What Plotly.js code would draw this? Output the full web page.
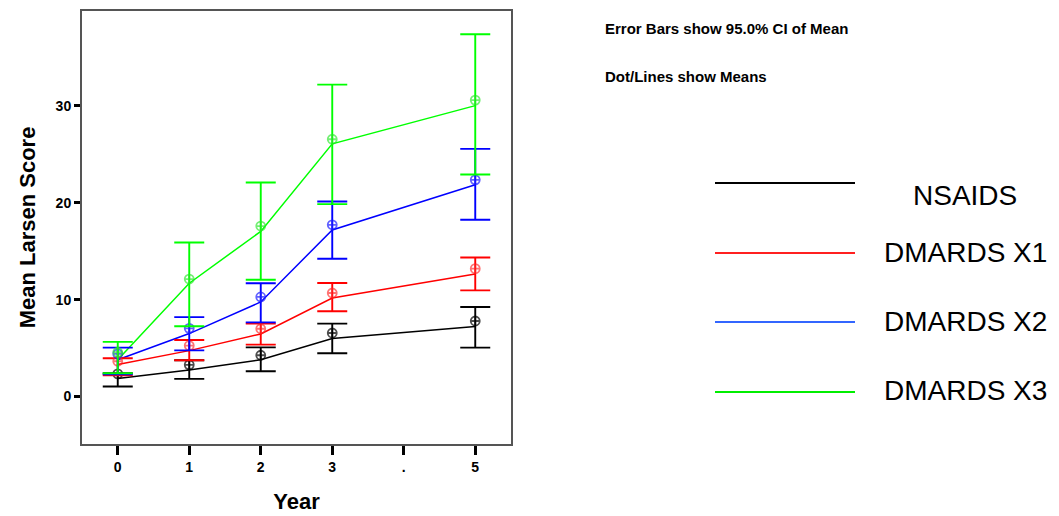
<!DOCTYPE html>
<html>
<head>
<meta charset="utf-8">
<script src="https://cdn.plot.ly/plotly-3.0.1.min.js"></script>
<style>html,body{margin:0;padding:0;background:#fff;}#chart{width:1059px;height:516px;}</style>
</head>
<body>
<div id="chart"></div>
<script>
// Categories (x axis)
const years = ['0', '1', '2', '3', '.', '5'];
const groups = ['NSAIDS', 'DMARDS X1', 'DMARDS X2', 'DMARDS X3'];
const colors = ['#000000', '#ff0000', '#0000ff', '#00ff00'];
const markerColors = ['rgba(0,0,0,0.7)', 'rgba(255,40,40,0.65)', 'rgba(30,30,255,0.7)', 'rgba(40,230,40,0.65)'];
const legendColors = ['#000000', '#ff2020', '#3366ff', '#00ee00'];

// Dot values (means)
const nsaidsMean = [2.34, 3.27, 4.26, 6.56, null, 7.8];
const dm1Mean    = [3.64, 5.26, 7.0, 10.69, null, 13.2];
const dm2Mean    = [4.4, 7.04, 10.28, 17.73, null, 22.37];
const dm3Mean    = [4.57, 12.13, 17.6, 26.56, null, 30.6];

// Line values
const nsaidsLine = [1.86, 2.75, 3.8, 5.98, null, 7.22];
const dm1Line    = [3.3, 4.74, 6.46, 10.17, null, 12.65];
const dm2Line    = [3.8, 6.5, 9.76, 17.2, null, 21.86];
const dm3Line    = [3.8, 11.7, 17.05, 26.08, null, 30.03];

// 95% CI upper / lower
const nsaidsUpper = [2.4, 3.74, 5.08, 7.53, null, 9.25];
const nsaidsLower = [1.03, 1.82, 2.61, 4.47, null, 5.05];
const dm1Upper    = [3.95, 5.84, 7.53, 11.72, null, 14.36];
const dm1Lower    = [2.2, 3.74, 5.36, 8.8, null, 10.96];
const dm2Upper    = [5.05, 8.2, 11.7, 20.13, null, 25.57];
const dm2Lower    = [2.3, 4.77, 7.66, 14.23, null, 18.25];
const dm3Upper    = [5.64, 15.9, 22.1, 32.2, null, 37.4];
const dm3Lower    = [2.4, 7.25, 12.06, 19.86, null, 22.92];

const yTicks = [0, 10, 20, 30];

const means = [nsaidsMean, dm1Mean, dm2Mean, dm3Mean];
const lines = [nsaidsLine, dm1Line, dm2Line, dm3Line];
const uppers = [nsaidsUpper, dm1Upper, dm2Upper, dm3Upper];
const lowers = [nsaidsLower, dm1Lower, dm2Lower, dm3Lower];

const traces = [];
for (let g = 0; g < groups.length; g++) {
  traces.push({
    type: 'scatter', mode: 'lines', x: years, y: lines[g], connectgaps: true,
    line: {color: colors[g], width: 1.5}, showlegend: false, hoverinfo: 'skip', name: groups[g]
  });
}
for (let g = 0; g < groups.length; g++) {
  const m = means[g];
  traces.push({
    type: 'scatter', mode: 'markers', x: years, y: m, name: groups[g], showlegend: false,
    marker: {symbol: 'circle-cross-open', size: 9, color: markerColors[g], line: {width: 1.8, color: markerColors[g]}},
    error_y: {
      type: 'data', symmetric: false,
      array: m.map((v, i) => v == null ? null : uppers[g][i] - v),
      arrayminus: m.map((v, i) => v == null ? null : v - lowers[g][i]),
      color: colors[g], thickness: 1.9, width: 15
    }
  });
}

// plot area pixel geometry
const L = 82, R = 511, T = 11, B = 444, W = 1059, H = 516;
const px = x => (x - L) / (R - L);
const pyPaper = y => (B - y) / (B - T);

const legendY = [183, 253, 322, 392];
const labelY = [195, 252, 321, 390];
const shapes = [];
const annotations = [];
for (let g = 0; g < groups.length; g++) {
  shapes.push({type: 'line', xref: 'paper', yref: 'paper', x0: px(715), x1: px(855),
    y0: pyPaper(legendY[g]), y1: pyPaper(legendY[g]), line: {color: legendColors[g], width: 1.8}});
  annotations.push({xref: 'paper', yref: 'paper', x: px(965), y: pyPaper(labelY[g]), xanchor: 'center', yanchor: 'middle',
    text: groups[g], showarrow: false, font: {family: 'Arial, Liberation Sans', size: 28, color: '#000'}});
}
annotations.push({xref: 'paper', yref: 'paper', x: px(603), y: pyPaper(28), xanchor: 'left', yanchor: 'middle',
  text: '<b>Error Bars show 95.0% CI of Mean</b>', showarrow: false, font: {family: 'Arial, Liberation Sans', size: 15, color: '#000'}});
annotations.push({xref: 'paper', yref: 'paper', x: px(603), y: pyPaper(77), xanchor: 'left', yanchor: 'middle',
  text: '<b>Dot/Lines show Means</b>', showarrow: false, font: {family: 'Arial, Liberation Sans', size: 15, color: '#000'}});

const layout = {
  width: W, height: H,
  margin: {l: L, r: W - R, t: T, b: H - B, pad: 0},
  paper_bgcolor: '#fff', plot_bgcolor: '#fff',
  showlegend: false,
  font: {family: 'Arial, Liberation Sans', color: '#000'},
  xaxis: {
    type: 'category', categoryorder: 'array', categoryarray: years, range: [-0.5, 5.5],
    showgrid: false, zeroline: false, showline: true, mirror: true, linecolor: '#555', linewidth: 2,
    ticks: 'outside', ticklen: 9, tickwidth: 3, tickcolor: '#000',
    tickfont: {size: 14, family: 'Arial, Liberation Sans', weight: 'bold'},
    title: {text: '<b>Year</b>', font: {size: 22, family: 'Arial, Liberation Sans'}, standoff: 20}
  },
  yaxis: {
    range: [-4.9, 39.8], tickvals: yTicks, ticktext: yTicks.map(String),
    showgrid: false, zeroline: false, showline: true, mirror: true, linecolor: '#555', linewidth: 2,
    ticks: 'outside', ticklen: 6, tickwidth: 3, tickcolor: '#000',
    tickfont: {size: 14, family: 'Arial, Liberation Sans', weight: 'bold'},
    title: {text: '<b>Mean Larsen Score</b>', font: {size: 22, family: 'Arial, Liberation Sans'}, standoff: 14}
  },
  shapes: shapes,
  annotations: annotations
};

Plotly.newPlot('chart', traces, layout, {staticPlot: true, displayModeBar: false});
</script>
</body>
</html>
